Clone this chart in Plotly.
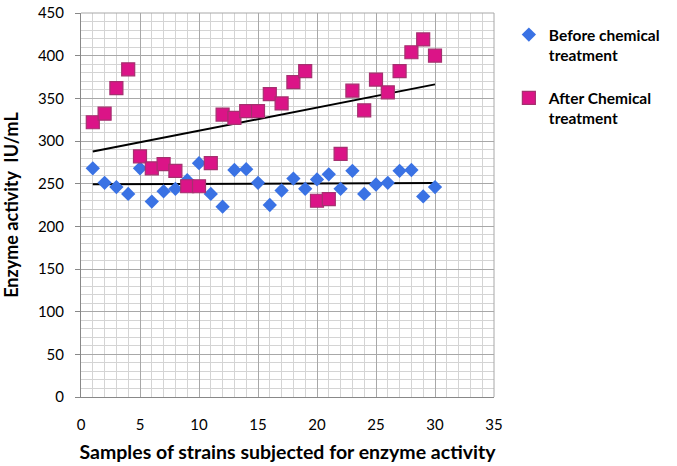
import numpy as np
import plotly.graph_objects as go

samples = list(range(1, 31))
before = [268, 251, 246, 238, 268, 229, 241, 244, 254, 274,
          238, 223, 266, 267, 251, 225, 242, 256, 244, 255,
          261, 244, 265, 238, 249, 251, 265, 266, 235, 246]
after = [322, 332, 362, 384, 282, 268, 273, 265, 247, 247,
         274, 331, 327, 335, 335, 355, 344, 369, 382, 230,
         232, 285, 359, 336, 372, 357, 382, 404, 419, 400]

x_ticks = [0, 5, 10, 15, 20, 25, 30, 35]
y_ticks = [0, 50, 100, 150, 200, 250, 300, 350, 400, 450]

xs = np.array(samples, dtype=float)
fit_b = np.polyfit(xs, np.array(before, dtype=float), 1)
fit_a = np.polyfit(xs, np.array(after, dtype=float), 1)
xline = [min(samples), max(samples)]

FONT = "Lato"
fig = go.Figure()
fig.add_trace(go.Scatter(x=xline, y=list(np.polyval(fit_b, xline)), mode="lines",
                         line=dict(color="black", width=2), showlegend=False, hoverinfo="skip"))
fig.add_trace(go.Scatter(x=xline, y=list(np.polyval(fit_a, xline)), mode="lines",
                         line=dict(color="black", width=2), showlegend=False, hoverinfo="skip"))
fig.add_trace(go.Scatter(x=samples, y=before, mode="markers", name="Before chemical<br>treatment",
                         legendgroup="b",
                         marker=dict(symbol="diamond", size=11, color="#3A72E4",
                                     line=dict(color="#3A72E4", width=0))))
fig.add_trace(go.Scatter(x=samples, y=after, mode="markers", name="After Chemical<br>treatment",
                         legendgroup="a",
                         marker=dict(symbol="square", size=13, color="#DB1487",
                                     line=dict(color="#A5306F", width=1.2))))

fig.update_layout(
    width=677, height=466,
    margin=dict(l=81, r=183, t=13, b=69, autoexpand=False),
    paper_bgcolor="white", plot_bgcolor="white",
    font=dict(family=FONT, color="black"),
    legend=dict(x=1.036, y=0.987, xanchor="left", yanchor="top", valign="top",
                font=dict(family=FONT, size=15.5, color="black", weight="bold"),
                traceorder="grouped", tracegroupgap=20, itemwidth=30,
                bgcolor="rgba(0,0,0,0)"),
    xaxis=dict(range=[0, 35], tickvals=x_ticks, ticks="outside", ticklen=14,
               tickcolor="rgba(0,0,0,0)",
               showline=True, linecolor="#888888", linewidth=1,
               showgrid=True, gridcolor="#A8A8A8", gridwidth=1,
               minor=dict(dtick=1, showgrid=True, gridcolor="#D4D4D4", gridwidth=1),
               tickfont=dict(family=FONT, size=15, color="black"),
               ticklabeloverflow="allow",
               title=dict(text="Samples of strains subjected for enzyme activity",
                          font=dict(family=FONT, size=19.5, color="black", weight="bold"), standoff=13),
               zeroline=False, mirror=False),
    yaxis=dict(range=[0, 450], tickvals=y_ticks, ticks="outside", ticklen=5, tickcolor="#888888",
               showline=True, linecolor="#888888", linewidth=1,
               showgrid=True, gridcolor="#A8A8A8", gridwidth=1,
               minor=dict(dtick=10, showgrid=True, gridcolor="#D4D4D4", gridwidth=1),
               tickfont=dict(family=FONT, size=15, color="black"),
               ticklabelstandoff=8, ticklabeloverflow="allow",
               title=dict(text="Enzyme activity  IU/mL",
                          font=dict(family=FONT, size=18, color="black", weight="bold"), standoff=14),
               zeroline=False),
)
fig.add_shape(type="line", xref="paper", yref="paper", x0=1, x1=1, y0=0, y1=1,
              line=dict(color="#A8A8A8", width=1))
fig.add_shape(type="line", xref="paper", yref="paper", x0=0, x1=1, y0=1, y1=1,
              line=dict(color="#A8A8A8", width=1))
fig.write_html("out.html", config={"displayModeBar": False},
               post_script="document.body.style.margin='0';")
